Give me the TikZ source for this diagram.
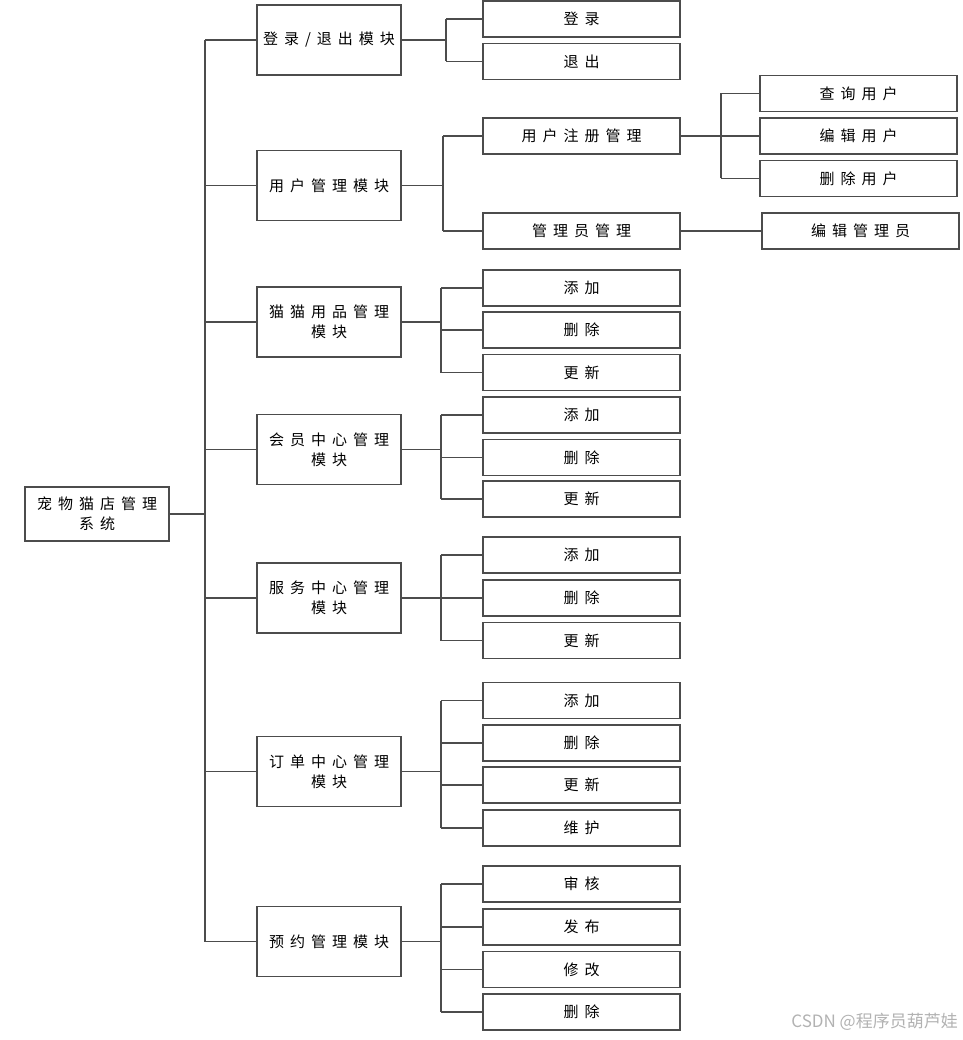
\documentclass[tikz,border=0pt]{standalone}
\usepackage{fontspec}
\newfontfamily\cjk[LetterSpace=40]{Noto Sans CJK SC}
\newfontfamily\wmfont{Noto Sans CJK SC}
\begin{document}
\begin{tikzpicture}[x=1pt,y=-1pt,
  box/.style={draw=black!70, line width=1.3pt, fill=white, inner sep=0pt, align=center,
              font=\cjk\fontsize{15}{20}\selectfont},
  modbox/.style={box, minimum width=144pt, minimum height=70pt},
  leafbox/.style={box, minimum width=197pt, minimum height=36pt},
  con/.style={draw=black!70, line width=1.3pt}]
\useasboundingbox (0,0) rectangle (962,1040);

% root
\node[box, minimum width=144pt, minimum height=54pt] (root) at (97,514) {宠物猫店管理\\系统};

% modules
\node[modbox] (m1) at (329,40)    {登录/退出模块};
\node[modbox] (m2) at (329,185.5) {用户管理模块};
\node[modbox] (m3) at (329,322)   {猫猫用品管理\\模块};
\node[modbox] (m4) at (329,449.5) {会员中心管理\\模块};
\node[modbox] (m5) at (329,598)   {服务中心管理\\模块};
\node[modbox] (m6) at (329,771.5) {订单中心管理\\模块};
\node[modbox] (m7) at (329,941.5) {预约管理模块};

% leaves
\node[leafbox] (l11) at (581.5,19)   {登录};
\node[leafbox] (l12) at (581.5,61.5) {退出};

\node[leafbox] (l21) at (581.5,136) {用户注册管理};
\node[leafbox] (l22) at (581.5,231) {管理员管理};
\node[leafbox] (s1) at (858.5,93.5)  {查询用户};
\node[leafbox] (s2) at (858.5,136)   {编辑用户};
\node[leafbox] (s3) at (858.5,178.5) {删除用户};
\node[leafbox] (s4) at (860.5,231)   {编辑管理员};

\node[leafbox] (l31) at (581.5,288)   {添加};
\node[leafbox] (l32) at (581.5,330)   {删除};
\node[leafbox] (l33) at (581.5,372.5) {更新};

\node[leafbox] (l41) at (581.5,415)   {添加};
\node[leafbox] (l42) at (581.5,457.5) {删除};
\node[leafbox] (l43) at (581.5,499)   {更新};

\node[leafbox] (l51) at (581.5,555)   {添加};
\node[leafbox] (l52) at (581.5,598)   {删除};
\node[leafbox] (l53) at (581.5,640.5) {更新};

\node[leafbox] (l61) at (581.5,700.5) {添加};
\node[leafbox] (l62) at (581.5,743)   {删除};
\node[leafbox] (l63) at (581.5,785)   {更新};
\node[leafbox] (l64) at (581.5,828)   {维护};

\node[leafbox] (l71) at (581.5,884)   {审核};
\node[leafbox] (l72) at (581.5,927)   {发布};
\node[leafbox] (l73) at (581.5,969.5) {修改};
\node[leafbox] (l74) at (581.5,1012)  {删除};

% bus coordinates
\coordinate (T)  at (205,0);
\coordinate (B1) at (446,0);
\coordinate (B2) at (443,0);
\coordinate (BS) at (721,0);
\coordinate (B)  at (441,0);

% trunk
\draw[con] (root.east) -- (root.east -| T);
\draw[con] (m1.west -| T) -- (m7.west -| T);
\foreach \m in {m1,m2,m3,m4,m5,m6,m7} \draw[con] (\m.west) -- (\m.west -| T);

% group 1
\draw[con] (m1.east) -- (m1.east -| B1);
\draw[con] (l11.west -| B1) -- (l12.west -| B1);
\foreach \l in {l11,l12} \draw[con] (\l.west) -- (\l.west -| B1);

% group 2
\draw[con] (m2.east) -- (m2.east -| B2);
\draw[con] (l21.west -| B2) -- (l22.west -| B2);
\foreach \l in {l21,l22} \draw[con] (\l.west) -- (\l.west -| B2);
\draw[con] (l21.east) -- (l21.east -| BS);
\draw[con] (s1.west -| BS) -- (s3.west -| BS);
\foreach \l in {s1,s2,s3} \draw[con] (\l.west) -- (\l.west -| BS);
\draw[con] (l22.east) -- (s4.west);

% groups 3-5
\foreach \g in {3,4,5} {
  \draw[con] (m\g.east) -- (m\g.east -| B);
  \draw[con] (l\g1.west -| B) -- (l\g3.west -| B);
  \foreach \i in {1,2,3} \draw[con] (l\g\i.west) -- (l\g\i.west -| B);
}
% groups 6-7
\foreach \g in {6,7} {
  \draw[con] (m\g.east) -- (m\g.east -| B);
  \draw[con] (l\g1.west -| B) -- (l\g4.west -| B);
  \foreach \i in {1,2,3,4} \draw[con] (l\g\i.west) -- (l\g\i.west -| B);
}

% watermark
\node[anchor=east, inner sep=0pt, text=black!30, font=\wmfont\fontsize{17}{20}\selectfont] (wm) at (958,1022) {CSDN @程序员葫芦娃};
\end{tikzpicture}
\end{document}
